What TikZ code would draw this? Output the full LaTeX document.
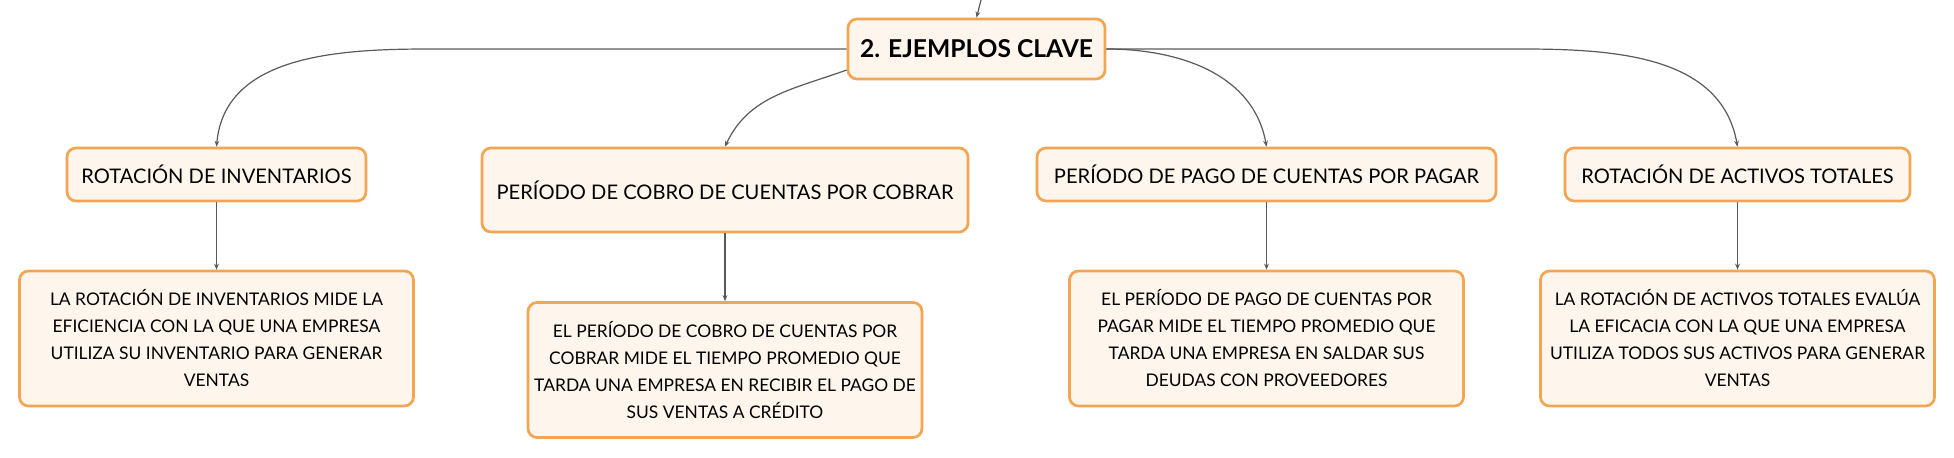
\documentclass[tikz,border=0pt]{standalone}
\usepackage{fontspec}
\setmainfont{Lato}
\usetikzlibrary{arrows.meta}
\definecolor{boxorange}{HTML}{F3A552}
\definecolor{boxfill}{HTML}{FEF5EC}
\definecolor{linkgray}{HTML}{5A5A5A}
\begin{document}
\begin{tikzpicture}[x=0.5pt,y=-0.5pt,
  box/.style={draw=boxorange,fill=boxfill,line width=1.35pt,rounded corners=4.5pt,align=center,inner sep=0pt},
  topic/.style={box,font=\fontsize{10.05}{12}\selectfont,minimum height=26.5pt},
  detail/.style={box,font=\fontsize{8.7}{13.5}\selectfont,minimum width=197pt,minimum height=67.5pt},
  link/.style={draw=linkgray,line width=0.6pt,-{Stealth[length=3pt,width=2.4pt]}}]
  \useasboundingbox (0,0) rectangle (1954,458);
  \node[box,font=\bfseries\fontsize{12.3}{14}\selectfont,minimum width=128.5pt,minimum height=30pt] (root) at (976.5,49) {2. EJEMPLOS CLAVE};
  \node[topic,minimum width=149.5pt] (ra) at (216.5,174.5) {ROTACIÓN DE INVENTARIOS};
  \node[topic,minimum width=243pt,minimum height=42pt] (rb) at (725,190) {PERÍODO DE COBRO DE CUENTAS POR COBRAR};
  \node[topic,minimum width=229.5pt] (rc) at (1266.5,174.5) {PERÍODO DE PAGO DE CUENTAS POR PAGAR};
  \node[topic,minimum width=172.5pt] (rd) at (1737.5,174.5) {ROTACIÓN DE ACTIVOS TOTALES};
  \node[detail] (da) at (216.5,338.5) {LA ROTACIÓN DE INVENTARIOS MIDE LA\\EFICIENCIA CON LA QUE UNA EMPRESA\\UTILIZA SU INVENTARIO PARA GENERAR\\VENTAS};
  \node[detail] (db) at (725,370) {EL PERÍODO DE COBRO DE CUENTAS POR\\COBRAR MIDE EL TIEMPO PROMEDIO QUE\\TARDA UNA EMPRESA EN RECIBIR EL PAGO DE\\SUS VENTAS A CRÉDITO};
  \node[detail] (dc) at (1266.5,338.5) {EL PERÍODO DE PAGO DE CUENTAS POR\\PAGAR MIDE EL TIEMPO PROMEDIO QUE\\TARDA UNA EMPRESA EN SALDAR SUS\\DEUDAS CON PROVEEDORES};
  \node[detail] (dd) at (1737.5,338.5) {LA ROTACIÓN DE ACTIVOS TOTALES EVALÚA\\LA EFICACIA CON LA QUE UNA EMPRESA\\UTILIZA TODOS SUS ACTIVOS PARA GENERAR\\VENTAS};
  \coordinate (up) at (981,0);
  \coordinate (bendA) at (430,49);
  \coordinate (bendD) at (1520,49);
  \draw[link] (up) -- (root.north);
  \draw[link] (root.west) -- (bendA) to[out=180,in=85] (ra.north);
  \draw[link] ([yshift=-10.5pt]root.west) to[out=200,in=65] (rb.north);
  \draw[link] (root.east) to[out=0,in=100] (rc.north);
  \draw[link] (root.east) -- (bendD) to[out=0,in=100] (rd.north);
  \draw[link] (ra) -- (da);
  \draw[link] (rb) -- (db);
  \draw[link] (rc) -- (dc);
  \draw[link] (rd) -- (dd);
\end{tikzpicture}
\end{document}
